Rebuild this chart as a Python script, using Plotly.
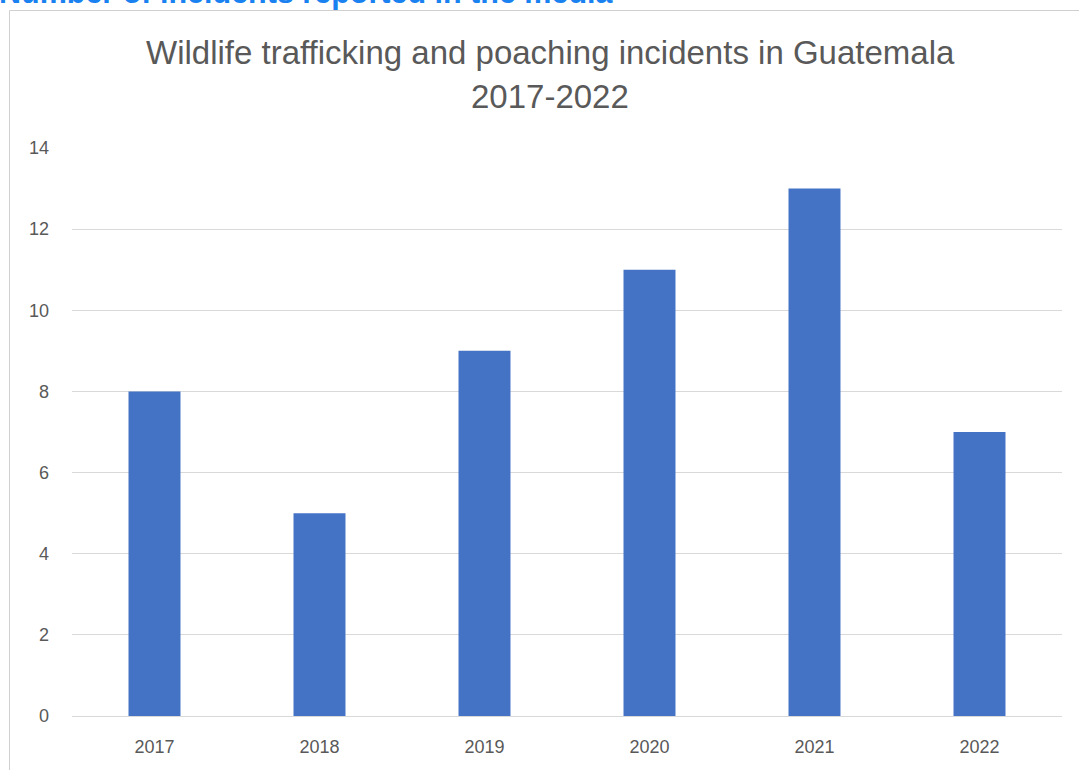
import plotly.graph_objects as go

years = ["2017", "2018", "2019", "2020", "2021", "2022"]
incidents = [8, 5, 9, 11, 13, 7]
y_ticks = [0, 2, 4, 6, 8, 10, 12, 14]
title_lines = ["Wildlife trafficking and poaching incidents in Guatemala", "2017-2022"]
header = "Number of incidents reported in the media"

W, H = 1079, 770
L, R, T, B = 72, 17, 148, 54
pw, ph = W - L - R, H - T - B

def px_x(x):
    return (x - L) / pw

def px_y(y):
    return (H - B - y) / ph

fig = go.Figure(go.Bar(x=years, y=incidents, marker_color="#4472C4", marker_line_width=0))

annotations = [dict(text=f"<b>{header}</b>", xref="paper", yref="paper",
                    x=px_x(-3), y=px_y(12), xanchor="left", yanchor="bottom", showarrow=False,
                    font=dict(size=30.5, color="#1a82f0", family="Liberation Sans, Arial, sans-serif"))]
for line, yc in zip(title_lines, [52, 97]):
    annotations.append(dict(text=line, xref="paper", yref="paper", x=px_x(550), y=px_y(yc),
                            xanchor="center", yanchor="middle", showarrow=False,
                            font=dict(size=33, color="#595959")))

fig.update_layout(
    width=W, height=H,
    margin=dict(l=L, r=R, t=T, b=B, autoexpand=False),
    paper_bgcolor="white", plot_bgcolor="white",
    bargap=0.685,
    font=dict(family="Liberation Sans, Arial, sans-serif", color="#595959"),
    showlegend=False,
    xaxis=dict(showgrid=False, showline=False, ticks="", ticklabelstandoff=18,
               tickfont=dict(size=18, color="#595959")),
    yaxis=dict(range=[0, 14], tickvals=y_ticks, showgrid=True, gridcolor="#d9d9d9", gridwidth=1,
               zeroline=True, zerolinecolor="#d9d9d9", zerolinewidth=1,
               showline=False, ticks="", ticklabelstandoff=22, tickfont=dict(size=18, color="#595959")),
    shapes=[dict(type="rect", xref="paper", yref="paper",
                 x0=px_x(9.5), x1=px_x(1100), y0=px_y(800), y1=px_y(10.5),
                 line=dict(color="#d0d0d0", width=1), fillcolor="rgba(0,0,0,0)", layer="below")],
    annotations=annotations,
)

fig.write_html("out.html", config={"displayModeBar": False},
               post_script="document.body.style.margin='0';document.body.style.overflow='hidden';")
